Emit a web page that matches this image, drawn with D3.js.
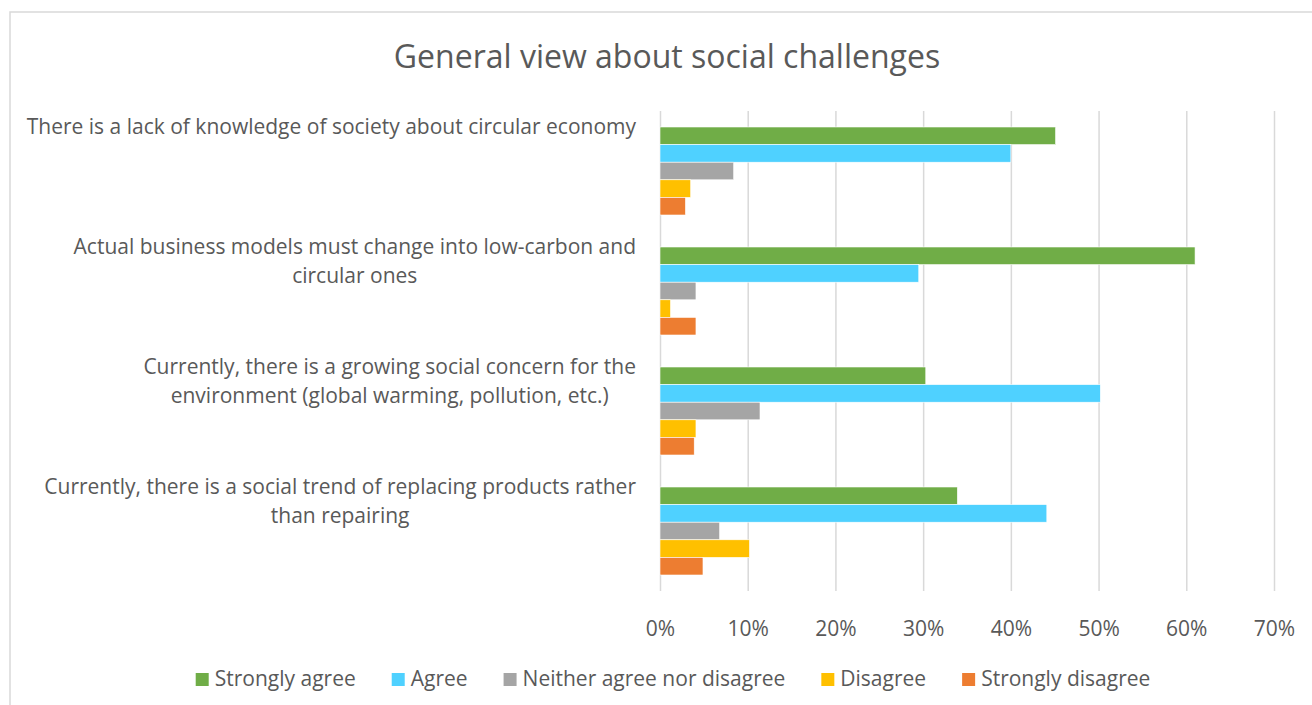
<!DOCTYPE html>
<html>
<head>
<meta charset="utf-8">
<script src="https://cdn.jsdelivr.net/npm/d3@7"></script>
<style>
  body { margin: 0; background: #fff; }
  svg text { font-family: "Open Sans", "Noto Sans", sans-serif; fill: #595959; }
</style>
</head>
<body>
<script>
// categories, top to bottom
const categories = [
  ["There is a lack of knowledge of society about circular economy"],
  ["Actual business models must change into low-carbon and", "circular ones"],
  ["Currently, there is a growing social concern for the", "environment (global warming, pollution, etc.)"],
  ["Currently, there is a social trend of replacing products rather", "than repairing"]
];
const series = ["Strongly agree", "Agree", "Neither agree nor disagree", "Disagree", "Strongly disagree"];
const colors = ["#70AD47", "#4FD1FF", "#A5A5A5", "#FFC000", "#ED7D31"];

// share of answers per category (same order as categories)
const stronglyAgree    = [0.451, 0.610, 0.303, 0.339];
const agree            = [0.400, 0.295, 0.502, 0.441];
const neither          = [0.084, 0.041, 0.114, 0.068];
const disagree         = [0.035, 0.012, 0.041, 0.102];
const stronglyDisagree = [0.029, 0.041, 0.039, 0.049];
const xTicks = [0, 0.1, 0.2, 0.3, 0.4, 0.5, 0.6, 0.7];

const values = [stronglyAgree, agree, neither, disagree, stronglyDisagree];

const W = 1312, H = 705;
const svg = d3.select("body").append("svg").attr("width", W).attr("height", H);

// chart frame
svg.append("rect")
  .attr("x", 10).attr("y", 12).attr("width", W).attr("height", H)
  .attr("fill", "#fff").attr("stroke", "#d9d9d9").attr("stroke-width", 1.5);

svg.append("text")
  .attr("x", 667).attr("y", 68)
  .attr("text-anchor", "middle")
  .style("font-size", "32px")
  .text("General view about social challenges");

const x = d3.scaleLinear().domain([0, 0.7]).range([660, 1274]);
const y0 = d3.scaleBand()
  .domain(d3.range(categories.length))
  .range([111, 591])
  .paddingInner(32 / 120)
  .paddingOuter(16 / 120);
const y1 = d3.scaleBand().domain(series).range([0, y0.bandwidth()]);

// gridlines + tick labels
const xAxis = d3.axisBottom(x).tickValues(xTicks).tickFormat(d3.format(".0%")).tickSize(-(591 - 111));
const gx = svg.append("g").attr("transform", "translate(0,591)").call(xAxis);
gx.select(".domain").remove();
gx.selectAll(".tick line").attr("stroke", "#d9d9d9").attr("stroke-width", 1.5);
gx.selectAll(".tick text")
  .attr("y", 45).attr("dy", 0)
  .style("font-size", "21px").attr("fill", "#595959");

// bars
const groups = svg.selectAll("g.cat")
  .data(categories.map((c, i) => i))
  .join("g").attr("class", "cat")
  .attr("transform", i => `translate(0,${y0(i)})`);

groups.selectAll("rect")
  .data(i => series.map((s, k) => ({ s, k, v: values[k][i] })))
  .join("rect")
  .attr("x", x(0))
  .attr("y", d => y1(d.s))
  .attr("width", d => x(d.v) - x(0))
  .attr("height", y1.bandwidth())
  .attr("fill", d => colors[d.k])
  .attr("stroke", "#fff").attr("stroke-width", 0.6);

// category labels, lines centred on each other, right edge at 636
const labels = svg.selectAll("g.lab")
  .data(categories)
  .join("g").attr("class", "lab");
labels.each(function(lines, i) {
  const g = d3.select(this);
  const t = g.selectAll("text").data(lines).join("text")
    .style("font-size", "21px")
    .attr("text-anchor", "middle")
    .attr("y", (d, j) => y0(i) + 7 + j * 29)
    .text(d => d);
  let maxW = 0;
  t.each(function() { maxW = Math.max(maxW, this.getComputedTextLength()); });
  t.attr("x", 636 - maxW / 2);
});

// legend
const legend = svg.append("g");
let lx = 0;
series.forEach((s, k) => {
  const item = legend.append("g").attr("transform", `translate(${lx},0)`);
  item.append("rect").attr("x", 0).attr("y", -13).attr("width", 13).attr("height", 13).attr("fill", colors[k]);
  const t = item.append("text").attr("x", 19).attr("y", 0).style("font-size", "21px").text(s);
  lx += 19 + t.node().getComputedTextLength() + 36;
});
lx -= 36;
legend.attr("transform", `translate(${673 - lx / 2},686)`);
</script>
</body>
</html>
